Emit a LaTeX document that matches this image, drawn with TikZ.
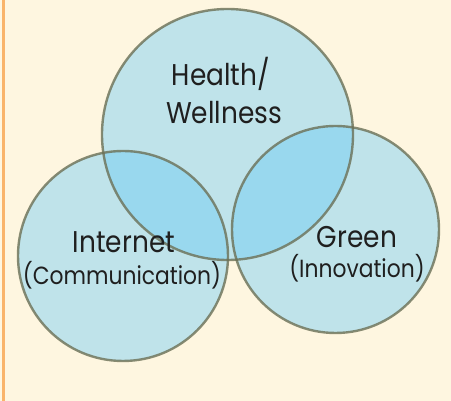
\documentclass[tikz,border=0pt]{standalone}
\usepackage{fontspec}
\setmainfont{Poppins}[FakeStretch=0.88]
\definecolor{bgcream}{HTML}{FEF6E0}
\definecolor{edgeorange}{HTML}{F9B46A}
\definecolor{circfill}{HTML}{BFE3EA}
\definecolor{overfill}{HTML}{99D8EE}
\definecolor{circline}{HTML}{6B7056}
\tikzset{
  bigtext/.style={anchor=base, inner sep=0pt, font=\fontsize{30}{34}\selectfont, text=black!88},
  smalltext/.style={anchor=base, inner sep=0pt, font=\fontsize{24.8}{28}\selectfont, text=black!88},
  ring/.style={draw=circline, draw opacity=0.8, line width=2.4pt},
}
\begin{document}
\begin{tikzpicture}[x=1pt,y=1pt]
\fill[bgcream] (0,0) rectangle (451,401);
\useasboundingbox (0,0) rectangle (451,401);
\fill[edgeorange] (2,0) rectangle (4.8,401);
\coordinate (ct) at (227.5,266.5);
\coordinate (cl) at (123,145);
\coordinate (cr) at (335.5,171.5);
\fill[circfill] (ct) circle (125.5);
\fill[circfill] (cl) circle (105);
\fill[circfill] (cr) circle (103.5);
\begin{scope}
  \clip (ct) circle (125.5);
  \fill[overfill] (cl) circle (105);
  \fill[overfill] (cr) circle (103.5);
\end{scope}
\draw[ring] (ct) circle (125.5);
\draw[ring] (cl) circle (105);
\draw[ring] (cr) circle (103.5);
\node[bigtext] (health) at (221,315) {Health/};
\node[bigtext] (wellness) at (224,277) {Wellness};
\node[bigtext] (internet) at (124,148) {Internet};
\node[smalltext] (comm) at (122,116) {(Communication)};
\node[bigtext] (green) at (357,153) {Green};
\node[smalltext] (innov) at (357,123) {(Innovation)};
\end{tikzpicture}
\end{document}
